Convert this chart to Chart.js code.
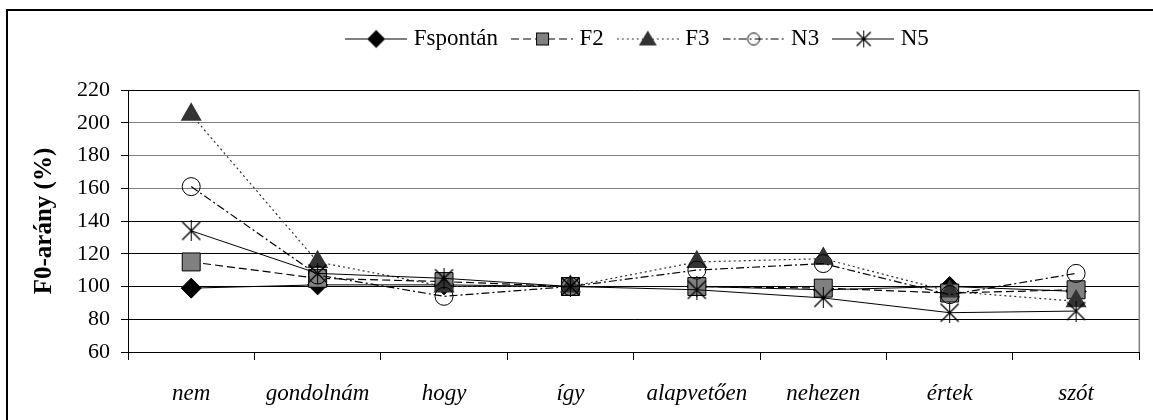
<!DOCTYPE html>
<html>
<head>
<meta charset="utf-8">
<script src="https://cdn.jsdelivr.net/npm/chart.js@4"></script>
<style>
  html, body { margin: 0; padding: 0; background: #fff; }
</style>
</head>
<body>
<canvas id="my-chart" width="1153" height="420"></canvas>
<script>
const words = ['nem', 'gondolnám', 'hogy', 'így', 'alapvetően', 'nehezen', 'értek', 'szót'];
const fspontan = [99, 101, 101, 100, 100, 98, 100, 97];
const f2 = [115, 105, 103, 100, 100, 99, 96, 98];
const f3 = [205, 115, 100, 100, 115, 117, 97, 91];
const n3 = [161, 107, 94, 100, 110, 114, 95, 108];
const n5 = [134, 108, 105, 100, 98, 93, 84, 85];
const yTicks = [60, 80, 100, 120, 140, 160, 180, 200, 220];

// asterisk marker (X with a vertical bar), like the spreadsheet one
function starImage(size) {
  const c = document.createElement('canvas');
  c.width = size + 1; c.height = size + 1;
  const g = c.getContext('2d');
  g.strokeStyle = '#000'; g.lineWidth = 1.4;
  const m = Math.floor(size / 2) + 0.5;
  g.beginPath();
  g.moveTo(1.5, 1.5); g.lineTo(size - 0.5, size - 0.5);
  g.moveTo(size - 0.5, 1.5); g.lineTo(1.5, size - 0.5);
  g.stroke();
  g.lineWidth = 1;
  g.beginPath();
  g.moveTo(m, 0); g.lineTo(m, size + 1);
  g.stroke();
  return c;
}

// legend sample: line piece with the marker in the middle
function legendIcon(dash, color, marker) {
  const c = document.createElement('canvas');
  c.width = 62; c.height = 22;
  const g = c.getContext('2d');
  g.strokeStyle = color; g.lineWidth = 1.2; g.setLineDash(dash);
  g.beginPath(); g.moveTo(0, 11.5); g.lineTo(62, 11.5); g.stroke();
  g.setLineDash([]);
  marker(g);
  return c;
}
const icons = [
  legendIcon([], '#000', g => {
    g.fillStyle = '#000';
    g.beginPath(); g.moveTo(31, 2.5); g.lineTo(40, 11.5); g.lineTo(31, 20.5); g.lineTo(22, 11.5); g.closePath(); g.fill();
  }),
  legendIcon([8, 4], '#000', g => {
    g.fillStyle = '#808080'; g.strokeStyle = '#000'; g.lineWidth = 1;
    g.fillRect(25, 5.5, 12, 12); g.strokeRect(25.5, 5.5, 12, 12);
  }),
  legendIcon([2, 3], '#333', g => {
    g.fillStyle = '#333';
    g.beginPath(); g.moveTo(31, 3); g.lineTo(40, 18); g.lineTo(22, 18); g.closePath(); g.fill();
  }),
  legendIcon([8, 3, 2, 3], '#000', g => {
    g.strokeStyle = '#000'; g.lineWidth = 1;
    g.beginPath(); g.arc(31, 11.5, 6, 0, Math.PI * 2); g.stroke();
  }),
  legendIcon([], '#000', g => { g.drawImage(starImage(16), 23, 3); })
];

const frame = {
  id: 'frame',
  afterInit(chart) {
    const fit = chart.legend.fit;
    chart.legend.fit = function () { fit.call(this); this.height += 30; };
  },
  afterLayout(chart) {
    chart.legend.left += 60;
    chart.legend.right += 60;
  },
  afterDraw(chart) {
    const ctx = chart.ctx, a = chart.chartArea;
    ctx.save();
    ctx.strokeStyle = '#808080'; ctx.lineWidth = 1.5;
    ctx.beginPath(); ctx.moveTo(a.right, a.top); ctx.lineTo(a.right, a.bottom); ctx.stroke();
    ctx.strokeStyle = '#000'; ctx.lineWidth = 2;
    ctx.strokeRect(7, 10, 1200, 500);
    ctx.restore();
  }
};

const serif = 'Liberation Serif';
const ctx = document.getElementById('my-chart').getContext('2d');
const chart = new Chart(ctx, {
  type: 'line',
  data: {
    labels: words,
    datasets: [
      { label: 'Fspontán', data: fspontan, order: 5, borderColor: '#000', borderWidth: 1,
        pointStyle: 'rectRot', pointRadius: 10, pointBackgroundColor: '#000', pointBorderColor: '#000' },
      { label: 'F2', data: f2, order: 4, borderColor: '#000', borderWidth: 1.2, borderDash: [8, 4],
        pointStyle: 'rect', pointRadius: 12.7, pointBackgroundColor: '#808080', pointBorderColor: '#000', pointBorderWidth: 1 },
      { label: 'F3', data: f3, order: 3, borderColor: '#333', borderWidth: 1.2, borderDash: [2, 3],
        pointStyle: 'triangle', pointRadius: 11, pointBackgroundColor: '#333', pointBorderColor: '#333' },
      { label: 'N3', data: n3, order: 2, borderColor: '#000', borderWidth: 1.2, borderDash: [8, 3, 2, 3],
        pointStyle: 'circle', pointRadius: 9, pointBackgroundColor: 'rgba(0,0,0,0)', pointBorderColor: '#000', pointBorderWidth: 1 },
      { label: 'N5', data: n5, order: 1, borderColor: '#000', borderWidth: 1,
        pointStyle: starImage(20), pointRadius: 10 }
    ]
  },
  options: {
    responsive: false,
    animation: false,
    events: [],
    layout: { padding: { left: 8, right: 2, top: 9, bottom: 0 } },
    elements: { line: { tension: 0, fill: false } },
    plugins: {
      tooltip: { enabled: false },
      legend: {
        position: 'top',
        labels: {
          usePointStyle: true,
          pointStyleWidth: 52,
          boxHeight: 20,
          padding: 18,
          color: '#000',
          font: { family: serif, size: 23 },
          generateLabels: c => c.data.datasets.map((d, i) => ({
            text: d.label, pointStyle: icons[i], datasetIndex: i,
            fillStyle: '#000', strokeStyle: '#000', lineWidth: 0, hidden: false, fontColor: '#000'
          }))
        }
      }
    },
    scales: {
      x: {
        offset: true,
        afterFit: s => { s.height = 68; },
        grid: { offset: true, drawOnChartArea: false, drawTicks: true, tickLength: 8, color: '#000' },
        border: { color: '#000', width: 1 },
        ticks: { color: '#000', padding: 20, maxRotation: 0, font: { family: serif, size: 23, style: 'italic' } }
      },
      y: {
        min: 60, max: 220,
        afterFit: s => { s.width = 120; },
        afterBuildTicks: s => { s.ticks = yTicks.map(v => ({ value: v })); },
        grid: {
          color: c => (c.tick && c.tick.value >= 160 && c.tick.value <= 200) ? '#808080' : '#000',
          tickColor: '#000', tickLength: 7, lineWidth: 1
        },
        border: { color: '#000', width: 1 },
        ticks: { color: '#000', padding: 11, font: { family: serif, size: 22 } },
        title: {
          display: true, text: 'F0-arány (%)', color: '#000',
          padding: { top: 22, bottom: 0 },
          font: { family: serif, size: 25, weight: 'bold' }
        }
      }
    }
  },
  plugins: [frame]
});
</script>
</body>
</html>
